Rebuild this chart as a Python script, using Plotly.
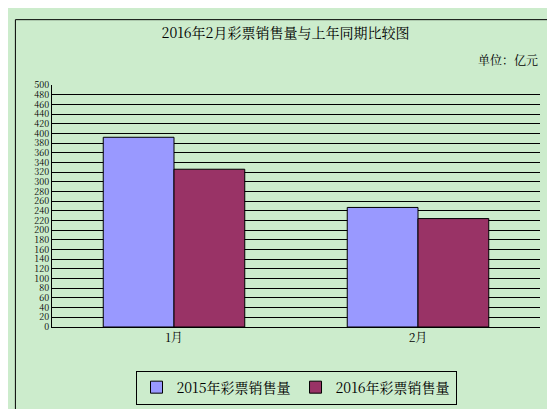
import plotly.graph_objects as go

# data
months = ["1月", "2月"]
sales_2015 = [392, 247]
sales_2016 = [326, 224]
tick_vals = list(range(0, 501, 20))

fig = go.Figure()
fig.add_trace(go.Bar(x=months, y=sales_2015, name="2015年彩票销售量",
                     marker=dict(color="#9999FF", line=dict(color="black", width=1))))
fig.add_trace(go.Bar(x=months, y=sales_2016, name="2016年彩票销售量",
                     marker=dict(color="#993366", line=dict(color="black", width=1))))

fig.update_layout(
    width=555, height=409,
    paper_bgcolor="#CCECCC", plot_bgcolor="#CCECCC",
    font=dict(family="Noto Serif CJK SC, Noto Sans CJK SC", size=12, color="black"),
    title=dict(text="2016年2月彩票销售量与上年同期比较图", x=0.5, y=0.95,
               xanchor="center", font=dict(size=14)),
    margin=dict(l=44, r=23, t=77, b=90),
    bargap=0.42, bargroupgap=0,
    showlegend=True,
    legend=dict(orientation="h", x=0.5, xanchor="center", y=-0.18, yanchor="top",
                bordercolor="black", borderwidth=1, bgcolor="#CCECCC",
                font=dict(size=14)),
    annotations=[dict(text="单位：亿元", x=1.0, xref="paper", xanchor="right",
                      y=1.06, yref="paper", yanchor="bottom", showarrow=False,
                      font=dict(size=12))],
    shapes=[dict(type="rect", xref="paper", yref="paper", x0=-0.075, x1=1.04,
                 y0=-0.35, y1=1.27, line=dict(color="black", width=1))],
)
fig.update_yaxes(range=[0, 500], tickvals=tick_vals, showgrid=True,
                 gridcolor="black", gridwidth=1, showline=True, linecolor="black",
                 tickfont=dict(size=9), zeroline=False, mirror=False)
fig.update_xaxes(showline=True, linecolor="black", tickfont=dict(size=12),
                 ticks="", mirror=False)

fig.write_html("out.html")
